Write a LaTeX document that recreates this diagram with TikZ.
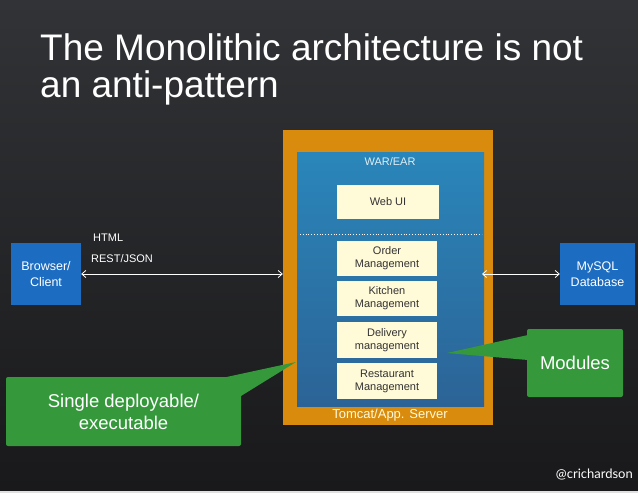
\documentclass[tikz,border=0pt]{standalone}
\usepackage{fontspec}
\setmainfont{Liberation Sans}
\newfontfamily\creditfont{Lato}
\usetikzlibrary{arrows.meta}

\definecolor{slidebg}{HTML}{19191B}
\definecolor{slidetop}{HTML}{313336}
\definecolor{tomcatorange}{HTML}{D98B0D}
\definecolor{wartop}{HTML}{2A86BA}
\definecolor{warbot}{HTML}{2C6396}
\definecolor{modcream}{HTML}{FFFAD8}
\definecolor{clientblue}{HTML}{1C6CC2}
\definecolor{callgreen}{HTML}{35993C}

\begin{document}
\begin{tikzpicture}[x=1pt, y=-1pt,
  module/.style={fill=modcream, text=black!80, minimum width=100, minimum height=35,
    align=center, inner sep=1pt, font=\fontsize{11}{13}\selectfont},
  endpoint/.style={fill=clientblue, text=white, align=center,
    font=\fontsize{12.5}{16}\selectfont},
  callout/.style={fill=callgreen, text=white, align=center, rounded corners=2pt,
    font=\fontsize{18.5}{22}\selectfont},
  link/.style={white, line width=0.8pt, {Straight Barb[length=4pt,width=7pt]}-{Straight Barb[length=4pt,width=7pt]}}]
  % slide background
  \useasboundingbox (0,0) rectangle (638,493);
  \fill[black!12] (0,0) rectangle (638,493);
  \shade[top color=slidetop, bottom color=slidebg] (0,0) rectangle (638,490);

  % title
  \node[anchor=base west, text=white, align=left, inner sep=0pt,
    font=\fontsize{37}{37}\selectfont] (title) at (40,97)
    {The Monolithic architecture is not\\an anti-pattern};

  % server and war
  \node[fill=tomcatorange, minimum width=210, minimum height=295, inner sep=0pt] (tomcat) at (388,277.5) {};
  \node[top color=wartop, bottom color=warbot, draw=none, minimum width=187, minimum height=254, inner sep=0pt] (war) at (390.5,279) {};
  \node[text=white!85!wartop, font=\fontsize{11}{12}\selectfont] (warlbl) at (390,162) {WAR/EAR};
  \node[text=modcream, font=\fontsize{13}{15}\selectfont] (tomcatlbl) at (390,415) {Tomcat/App. Server};

  % modules
  \node[module, minimum width=102, minimum height=34] (webui) at (388,202) {Web UI};
  \coordinate (dotl) at (300,234);
  \coordinate (dotr) at (482,234);
  \draw[white, dotted, line width=0.8pt] (dotl) -- (dotr);
  \node[module] (order) at (387,258.5) {Order\\Management};
  \node[module] (kitchen) at (387,298.5) {Kitchen\\Management};
  \node[module, minimum height=36] (delivery) at (387,340) {Delivery\\management};
  \node[module, minimum height=36] (restaurant) at (387,381) {Restaurant\\Management};

  % client and database
  \node[endpoint, minimum width=70, minimum height=62] (browser) at (46,274) {Browser/\\Client};
  \node[endpoint, minimum width=75, minimum height=62] (mysql) at (597.5,274) {MySQL\\Database};
  \node[anchor=base west, text=white, font=\fontsize{11}{12}\selectfont, inner sep=0pt] (html) at (93,241) {HTML};
  \node[anchor=base west, text=white, font=\fontsize{11}{12}\selectfont, inner sep=0pt] (rest) at (91,262) {REST/JSON};
  \draw[link] (browser.east) -- (browser.east -| tomcat.west);
  \coordinate (warend) at (482,274);
  \draw[link] (warend) -- (mysql.west);

  % callouts
  \coordinate (modtip) at (447,353);
  \fill[callgreen] (modtip) -- (528,335) -- (528,360) -- cycle;
  \node[callout, minimum width=96, minimum height=68] (modules) at (575,363) {Modules};
  \coordinate (singletip) at (296,362);
  \fill[callgreen] (singletip) -- (222,378) -- (241,396) -- cycle;
  \node[callout, minimum width=235, minimum height=69] (single) at (123.5,411.5)
    {Single deployable/\\executable};

  % credit
  \node[anchor=base east, text=white!80, font=\creditfont\fontsize{13}{15}\selectfont, inner sep=0pt] (credit) at (633,478) {@crichardson};
\end{tikzpicture}
\end{document}
